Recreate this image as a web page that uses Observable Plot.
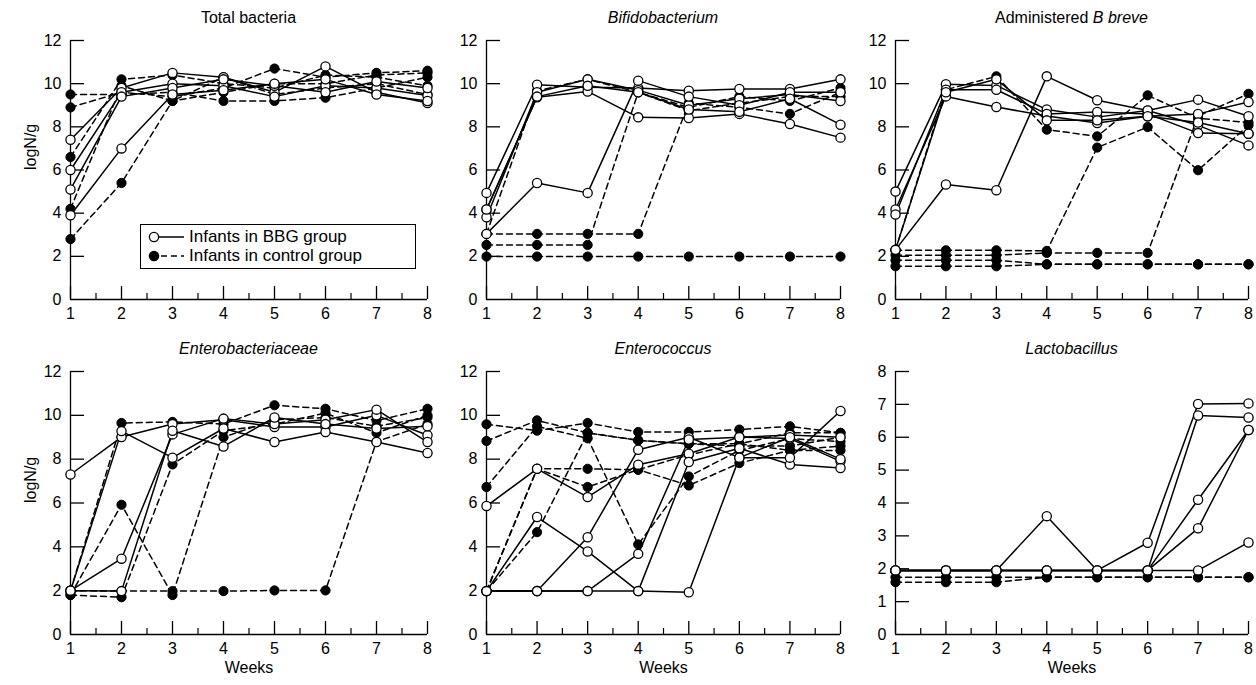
<!DOCTYPE html>
<html><head><meta charset="utf-8">
<script src="https://cdn.jsdelivr.net/npm/d3@7"></script>
<script src="https://cdn.jsdelivr.net/npm/@observablehq/plot@0.6"></script>
<style>
body{margin:0;background:#fff;font-family:"Liberation Sans",Arial,sans-serif;color:#000;}
#c{position:relative;width:1256px;height:685px;overflow:hidden;background:#fff;}
.panel{position:absolute;}
.title{position:absolute;font-size:16px;text-align:center;line-height:20px;white-space:nowrap;}
.legend{position:absolute;border:1.3px solid #000;background:#fff;font-size:17px;box-sizing:border-box;padding:2px 4px;}
.legend .row{display:flex;align-items:center;height:19px;}
.legend svg{margin-right:4px;}
</style></head>
<body><div id="c"></div>
<script>
// ---------- data ----------
const weeks = [1, 2, 3, 4, 5, 6, 7, 8];
const minorTicks = [1.5, 2.5, 3.5, 4.5, 5.5, 6.5, 7.5];
const yTicks12 = [0, 2, 4, 6, 8, 10, 12];
const yTicks8 = [0, 1, 2, 3, 4, 5, 6, 7, 8];
const legendLabels = ["Infants in BBG group", "Infants in control group"];
const titles = ["Total bacteria", "<i>Bifidobacterium</i>", "Administered <i>B breve</i>",
                "<i>Enterobacteriaceae</i>", "<i>Enterococcus</i>", "<i>Lactobacillus</i>"];
const yLabel = "logN/g";
const xLabel = "Weeks";

const totalBBG = [
  [7.4, 9.8, 10.5, 10.3, 9.6, 10.8, 9.6, 9.1],
  [6.0, 9.6, 10.0, 9.9, 9.4, 9.9, 9.8, 9.45],
  [5.1, 9.4, 9.8, 10.2, 9.9, 9.6, 10.1, 9.8],
  [3.9, 7.0, 9.5, 9.7, 10.0, 10.2, 9.5, 9.2]
];
const totalControl = [
  [9.5, 9.5, 9.6, 9.2, 9.2, 9.35, 9.8, 10.3],
  [8.9, 9.6, 9.4, 9.8, 10.7, 10.3, 10.5, 10.6],
  [6.6, 10.2, 10.4, 10.0, 9.8, 10.4, 10.3, 9.9],
  [4.2, 9.9, 9.2, 10.3, 9.5, 9.8, 10.0, 9.5],
  [2.8, 5.4, 9.2, 9.6, 10.0, 10.0, 10.4, 10.5]
];
const bifBBG = [
  [4.94, 9.95, 9.83, 9.8, 9.67, 9.75, 9.75, 10.2],
  [4.17, 9.37, 9.64, 8.44, 8.41, 8.6, 8.13, 7.5],
  [3.81, 9.6, 10.2, 9.7, 9.0, 9.3, 9.5, 9.2],
  [3.04, 5.4, 4.94, 10.14, 9.4, 9.0, 9.6, 9.6],
  [4.17, 9.4, 9.9, 9.6, 8.8, 8.7, 9.3, 8.1]
];
const bifControl = [
  [3.04, 9.67, 10.2, 9.6, 8.9, 9.4, 9.2, 9.8],
  [3.04, 3.04, 3.04, 3.04, 9.1, 8.9, 8.6, 9.6],
  [2.53, 2.53, 2.53, 9.6, 8.75, 9.1, 9.4, 9.4],
  [1.99, 1.99, 1.99, 1.99, 1.99, 1.99, 1.99, 1.99]
];
const breveBBG = [
  [5.0, 9.97, 9.92, 8.8, 8.45, 8.76, 8.07, 7.14],
  [4.17, 9.41, 8.92, 8.5, 8.18, 8.49, 8.6, 9.15],
  [3.94, 9.72, 9.72, 8.6, 8.69, 8.6, 7.71, 7.68],
  [2.3, 5.33, 5.06, 10.34, 9.23, 8.76, 9.26, 8.49],
  [2.3, 9.6, 10.2, 8.3, 8.3, 8.49, 8.2, 7.68]
];
const breveControl = [
  [2.28, 2.28, 2.28, 2.25, 7.04, 7.99, 5.99, 8.07],
  [2.05, 2.05, 2.05, 2.16, 2.16, 2.16, 8.5, 9.53],
  [1.82, 1.82, 1.82, 1.63, 1.63, 1.63, 1.63, 1.63],
  [1.54, 1.54, 1.54, 1.63, 1.63, 1.63, 1.63, 1.63],
  [2.3, 9.72, 10.34, 7.87, 7.56, 9.46, 8.4, 8.2]
];
const enteroBBG = [
  [7.3, 9.01, 9.6, 9.8, 9.47, 9.47, 10.0, 9.09],
  [2.0, 9.28, 8.07, 9.4, 8.78, 9.24, 8.78, 8.28],
  [2.0, 3.46, 9.13, 9.85, 9.6, 9.8, 10.26, 8.78],
  [2.0, 1.98, 9.3, 8.58, 9.9, 9.6, 9.4, 9.5]
];
const enteroControl = [
  [2.0, 9.65, 9.7, 9.6, 10.46, 10.3, 9.76, 10.3],
  [1.8, 5.92, 1.8, 9.0, 9.8, 9.9, 9.5, 9.9],
  [1.8, 1.7, 7.76, 9.3, 9.6, 10.1, 9.2, 10.0],
  [2.0, 1.98, 1.98, 1.98, 2.01, 2.01, 8.8, 9.6]
];
const coccusBBG = [
  [5.86, 7.56, 6.27, 7.75, 8.25, 9.01, 8.94, 7.9],
  [1.98, 5.36, 3.79, 1.98, 7.87, 8.5, 7.76, 7.6],
  [1.98, 1.98, 4.44, 8.43, 9.0, 8.07, 8.07, 10.2],
  [1.98, 1.98, 1.98, 3.68, 8.9, 9.0, 9.1, 9.0],
  [1.98, 1.98, 1.98, 1.98, 1.93, 8.07, 9.0, 8.0]
];
const coccusControl = [
  [9.59, 9.3, 9.65, 9.24, 9.24, 9.35, 9.5, 9.2],
  [8.83, 9.77, 9.2, 8.86, 8.7, 8.7, 8.4, 8.6],
  [6.73, 9.5, 8.95, 4.11, 7.21, 8.4, 8.94, 8.8],
  [1.98, 7.56, 7.56, 7.52, 6.8, 7.82, 8.4, 8.4],
  [1.98, 4.67, 9.2, 8.86, 8.7, 8.6, 8.6, 9.0],
  [1.98, 7.56, 6.73, 7.52, 8.2, 8.7, 9.2, 9.2]
];
const lactoBBG = [
  [1.95, 1.95, 1.95, 1.95, 1.95, 2.79, 7.01, 7.03],
  [1.95, 1.95, 1.95, 1.95, 1.95, 1.95, 6.66, 6.6],
  [1.95, 1.95, 1.95, 1.95, 1.95, 1.95, 4.1, 6.22],
  [1.95, 1.95, 1.95, 1.95, 1.95, 1.95, 3.23, 6.22],
  [1.95, 1.95, 1.95, 3.6, 1.95, 1.95, 1.95, 2.8]
];
const lactoControl = [
  [1.74, 1.74, 1.74, 1.74, 1.74, 1.74, 1.74, 1.74],
  [1.59, 1.59, 1.59, 1.74, 1.74, 1.74, 1.74, 1.74]
];

// ---------- layout ----------
const cols = [{x1: 70, x8: 427}, {x1: 486, x8: 840}, {x1: 895, x8: 1248}];
const rows = [{top: 40, bottom: 299}, {top: 371, bottom: 634}];
const ML = 50, MT = 40;

const panels = [
  {bbg: totalBBG, ctl: totalControl, yMax: 12, yT: yTicks12},
  {bbg: bifBBG, ctl: bifControl, yMax: 12, yT: yTicks12},
  {bbg: breveBBG, ctl: breveControl, yMax: 12, yT: yTicks12},
  {bbg: enteroBBG, ctl: enteroControl, yMax: 12, yT: yTicks12},
  {bbg: coccusBBG, ctl: coccusControl, yMax: 12, yT: yTicks12},
  {bbg: lactoBBG, ctl: lactoControl, yMax: 8, yT: yTicks8}
];

const tidy = (series) => series.flatMap((s, i) => s.map((v, j) => ({week: weeks[j], v, id: i})));
const container = document.getElementById("c");

panels.forEach((p, k) => {
  const col = cols[k % 3], row = rows[Math.floor(k / 3)];
  const MR = k % 3 === 2 ? 1256 - col.x8 : 12;
  const plotW = col.x8 - col.x1, plotH = row.bottom - row.top;
  const mb = k < 3 ? 40 : 685 - row.bottom;
  const width = ML + plotW + MR, height = MT + plotH + mb;
  const bbgRows = tidy(p.bbg), ctlRows = tidy(p.ctl);
  const marks = [
    Plot.ruleX([1], {y1: 0, y2: p.yMax, stroke: "black", strokeWidth: 1.3}),
    Plot.ruleY([0], {x1: 1, x2: 8, stroke: "black", strokeWidth: 1.3}),
    Plot.tickY(p.yT.filter(t => t > 0), {y: d => d, insetRight: plotW - 14, stroke: "black", strokeWidth: 1.3}),
    Plot.tickX(weeks, {x: d => d, insetTop: plotH - 13, stroke: "black", strokeWidth: 1.3}),
    Plot.tickX(minorTicks, {x: d => d, insetTop: plotH - 6, stroke: "black", strokeWidth: 1.2}),
    Plot.axisY({ticks: p.yT, tickSize: 0, tickPadding: 9, label: null, tickFormat: d => String(d)}),
    Plot.axisX({ticks: weeks, tickSize: 0, tickPadding: 8, label: null, tickFormat: d => String(d)}),
    Plot.line(ctlRows, {x: "week", y: "v", z: "id", stroke: "black", strokeWidth: 1.5, strokeDasharray: "6,4"}),
    Plot.line(bbgRows, {x: "week", y: "v", z: "id", stroke: "black", strokeWidth: 1.5}),
    Plot.dot(ctlRows, {x: "week", y: "v", r: 4.6, fill: "black", stroke: "black", strokeWidth: 1}),
    Plot.dot(bbgRows, {x: "week", y: "v", r: 4.6, fill: "white", stroke: "black", strokeWidth: 1.3})
  ];
  if (k % 3 === 0) marks.push(Plot.text([yLabel], {frameAnchor: "left", rotate: -90, dx: -40, fontSize: 16}));
  if (k >= 3) marks.push(Plot.text([xLabel], {frameAnchor: "bottom", dy: 38, fontSize: 16}));
  const svg = Plot.plot({
    width, height, marginLeft: ML, marginRight: MR, marginTop: MT, marginBottom: mb,
    x: {domain: [1, 8]}, y: {domain: [0, p.yMax]},
    style: {fontFamily: "'Liberation Sans', Arial, sans-serif", fontSize: "16px", color: "black", background: "none", overflow: "visible"},
    marks
  });
  const wrap = document.createElement("div");
  wrap.className = "panel";
  wrap.style.left = (col.x1 - ML) + "px";
  wrap.style.top = (row.top - MT) + "px";
  wrap.style.width = width + "px";
  wrap.appendChild(svg);
  container.appendChild(wrap);

  const t = document.createElement("div");
  t.className = "title";
  t.innerHTML = titles[k];
  t.style.left = col.x1 + "px";
  t.style.width = plotW + "px";
  t.style.top = (row.top - 32) + "px";
  container.appendChild(t);
});

// legend
const lg = document.createElement("div");
lg.className = "legend";
lg.style.left = "140px"; lg.style.top = "224px"; lg.style.width = "276px"; lg.style.height = "45px";
legendLabels.forEach((lab, i) => {
  const r = document.createElement("div");
  r.className = "row";
  const dash = i === 1 ? ' stroke-dasharray="6,4"' : '';
  const fill = i === 1 ? 'black' : 'white';
  r.innerHTML = `<svg width="40" height="16"><line x1="6" y1="8" x2="39" y2="8" stroke="black" stroke-width="1.5"${dash}/><circle cx="9" cy="8" r="4.6" fill="${fill}" stroke="black" stroke-width="1.3"/></svg><span>${lab}</span>`;
  lg.appendChild(r);
});
container.appendChild(lg);
</script>
</body></html>
